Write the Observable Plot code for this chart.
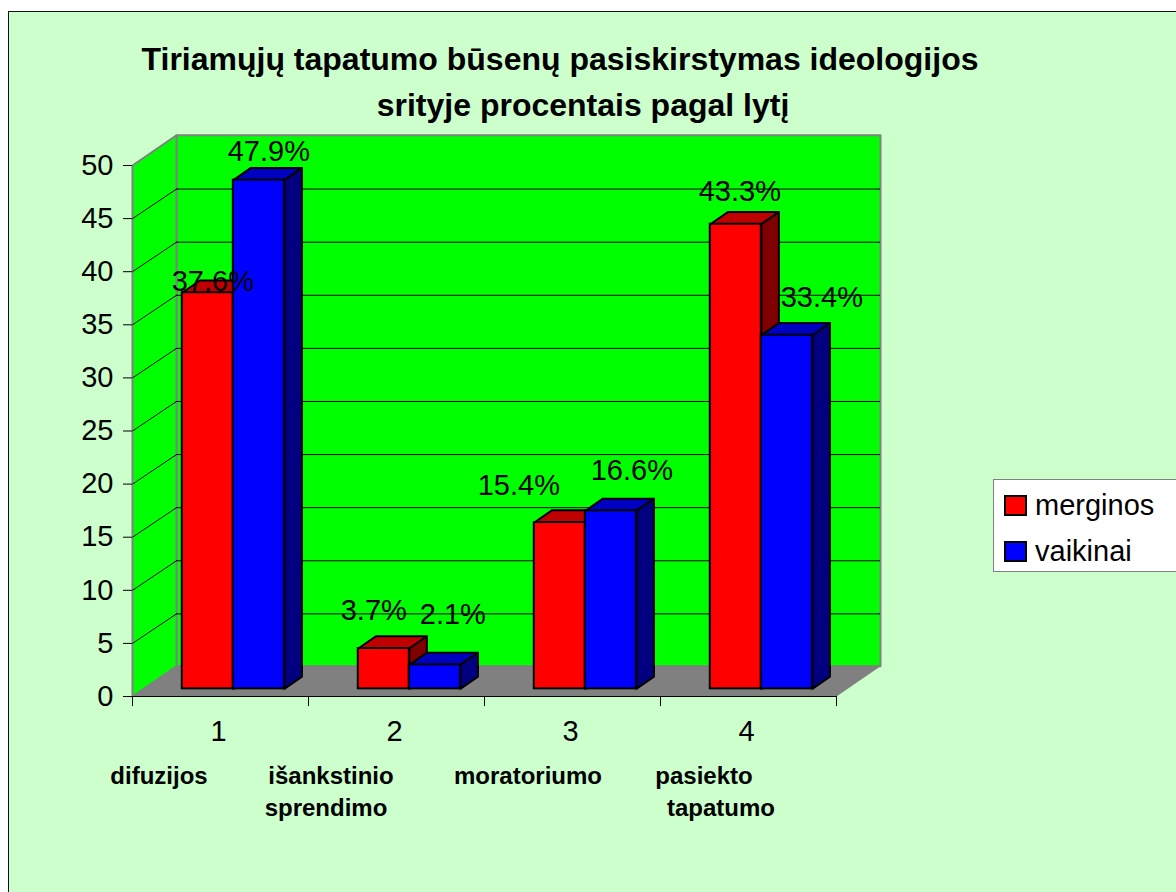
<!DOCTYPE html>
<html lang="lt">
<head>
<meta charset="utf-8">
<script src="https://cdn.jsdelivr.net/npm/d3@7"></script>
<script src="https://cdn.jsdelivr.net/npm/@observablehq/plot@0.6"></script>
<style>
  html, body { margin: 0; padding: 0; background: #fff; }
  #page { position: relative; width: 1176px; height: 892px; overflow: hidden; font-family: "Liberation Sans", Arial, sans-serif; color: #000; }
  #panel { position: absolute; left: 8px; top: 11px; width: 1400px; height: 1200px; background: #ccffcc; border: 1.5px solid #111; box-sizing: border-box; }
  #page svg { position: absolute; left: 0; top: 0; }
  .t { position: absolute; white-space: nowrap; line-height: 1; }
  .title { font-weight: bold; font-size: 32px; transform: translateX(-50%); }
  .note { font-weight: bold; font-size: 24px; transform: translateX(-50%); }
  #legend { position: absolute; left: 993px; top: 479px; width: 190px; height: 93px; background: #fff; border: 1.5px solid #808080; box-sizing: border-box; }
  .sw { position: absolute; width: 23px; height: 21px; border: 2px solid #000; box-sizing: border-box; }
  .lt { position: absolute; font-size: 29px; line-height: 1; white-space: nowrap; }
</style>
</head>
<body>
<div id="page">
  <div id="panel"></div>
  <div id="chart"></div>
  <div class="t title" style="left:560px;top:43px">Tiriamųjų tapatumo būsenų pasiskirstymas ideologijos</div>
  <div class="t title" style="left:583px;top:89px">srityje procentais pagal lytį</div>
  <div class="t note" style="left:159px;top:764px">difuzijos</div>
  <div class="t note" style="left:331px;top:764px">išankstinio</div>
  <div class="t note" style="left:326px;top:796px">sprendimo</div>
  <div class="t note" style="left:528px;top:764px">moratoriumo</div>
  <div class="t note" style="left:704px;top:764px">pasiekto</div>
  <div class="t note" style="left:721px;top:796px">tapatumo</div>
  <div id="legend">
    <div class="sw" style="left:9.5px;top:14.5px;background:#f00"></div>
    <div class="lt" style="left:41px;top:10.5px">merginos</div>
    <div class="sw" style="left:9.5px;top:60.5px;background:#00f"></div>
    <div class="lt" style="left:41px;top:56.5px">vaikinai</div>
  </div>
</div>
<script>
// --- data ---
const categories = [1, 2, 3, 4];
// heights of the bars
const merginos = [37.3, 3.8, 15.66, 43.75];
const vaikinai = [47.9, 2.26, 16.76, 33.3];
// the values printed above the bars
const merginosLabels = ["37.6%", "3.7%", "15.4%", "43.3%"];
const vaikinaiLabels = ["47.9%", "2.1%", "16.6%", "33.4%"];

// --- layout, in data units of the two scales ---
const xDomain = [0.5, 4.5];
const yDomain = [0, 50];
const wallX = 0.25, wallY = 2.85;          // depth of the chart box
const gridY = 2.78;                        // rise of the grid lines on the walls
const barW = 0.29, shiftX = 0.0728, shiftY = 0.72; // bar width and placement on the floor
const depthX = 0.1, depthY = 1.15;         // depth of a bar
const seriesStyle = [
  {name: "merginos", values: merginos, labels: merginosLabels, front: "#ff0000", top: "#c00000", side: "#800000", off: -1},
  {name: "vaikinai", values: vaikinai, labels: vaikinaiLabels, front: "#0000ff", top: "#0000c0", side: "#000080", off: 0}
];
// data labels were moved by hand in the original: offsets from the bar's top centre, px
const labelShift = {
  merginos: [[5, -1.4], [-10, -28.4], [-41, -27.4], [4, -23]],
  vaikinai: [[10, -19], [18, -40.7], [21, -30.7], [35, -28.7]]
};

const poly = (pts, fill, stroke, strokeWidth) =>
  Plot.line(pts, {x: "0", y: "1", curve: "linear-closed", fill, stroke, strokeWidth});

const [x0, x1] = xDomain, [y0, y1] = yDomain;
const grid = d3.range(5, 50, 5);

const marks = [
  // back wall, left wall, floor
  poly([[x0 + wallX, y0 + wallY], [x1 + wallX, y0 + wallY], [x1 + wallX, y1 + wallY], [x0 + wallX, y1 + wallY]], "#00ff00", "#808080", 2),
  poly([[x0, y0], [x0 + wallX, y0 + wallY], [x0 + wallX, y1 + wallY], [x0, y1]], "#00ff00", "#808080", 2),
  poly([[x0, y0], [x1, y0], [x1 + wallX, y0 + wallY], [x0 + wallX, y0 + wallY]], "#808080", "none", 0),
  // grid lines on the walls
  Plot.ruleY(grid, {y: d => d + gridY, x1: x0 + wallX, x2: x1 + wallX, stroke: "#000", strokeWidth: 1}),
  Plot.link(grid, {x1: x0, y1: d => d, x2: x0 + wallX, y2: d => d + gridY, stroke: "#000", strokeWidth: 1}),
  // axis lines and ticks
  Plot.ruleY([0], {x1: x0, x2: x1, stroke: "#000", strokeWidth: 1.2}),
  Plot.ruleX(d3.range(x0, x1 + 1), {y1: 0, y2: -0.95, stroke: "#000", strokeWidth: 1}),
  Plot.axisY({ticks: d3.range(0, 51, 5), tickSize: 9, tickPadding: 10, fontSize: 29, label: null, color: "#000", strokeWidth: 1}),
  Plot.axisX({ticks: categories, tickSize: 0, tickPadding: 24, fontSize: 29, label: null, color: "#000", tickFormat: d => d, dx: -2})
];

// bars: one series after the other so the blue front covers the red side
categories.forEach((c, i) => {
  seriesStyle.forEach(s => {
    const v = s.values[i];
    const a = c + shiftX + s.off * barW, b = a + barW;
    const yb = shiftY, yt = shiftY + v;
    marks.push(
      poly([[a, yt], [b, yt], [b + depthX, yt + depthY], [a + depthX, yt + depthY]], s.top, "#000", 2),
      poly([[b, yb], [b + depthX, yb + depthY], [b + depthX, yt + depthY], [b, yt]], s.side, "#000", 2),
      Plot.rect([{a, b, yb, yt}], {x1: "a", x2: "b", y1: "yb", y2: "yt", fill: s.front, stroke: "#000", strokeWidth: 2})
    );
  });
});

// value labels, on top of every bar
seriesStyle.forEach(s => {
  categories.forEach((c, i) => {
    const v = s.values[i];
    const [dx, dy] = labelShift[s.name][i];
    marks.push(Plot.text([{x: c + shiftX + s.off * barW + barW / 2, y: v + shiftY, t: s.labels[i]}], {
      x: "x", y: "y", text: "t", dx, dy, fontSize: 29, fill: "#000", lineAnchor: "bottom", textAnchor: "middle"
    }));
  });
});

const svg = Plot.plot({
  width: 1176,
  height: 892,
  marginLeft: 132,
  marginRight: 340,
  marginTop: 165,
  marginBottom: 196,
  x: {type: "linear", domain: xDomain, axis: null},
  y: {type: "linear", domain: yDomain, axis: null},
  style: {background: "transparent", fontFamily: "'Liberation Sans', Arial, sans-serif", overflow: "visible"},
  marks
});
document.getElementById("chart").append(svg);
</script>
</body>
</html>
